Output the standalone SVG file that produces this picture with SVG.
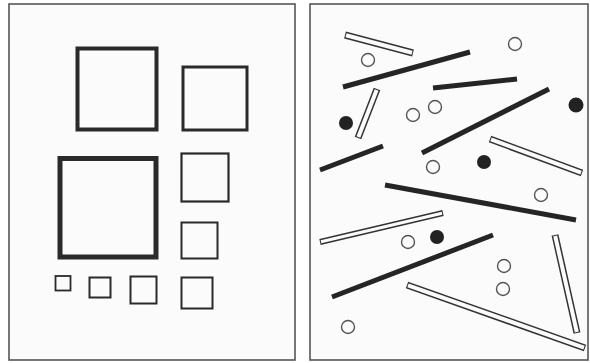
<svg xmlns="http://www.w3.org/2000/svg" width="590" height="363" viewBox="0 0 590 363">
<style>
.frame{fill:#fbfbfb;stroke:#555;stroke-width:1.6}
.sq{fill:none;stroke:#2a2a2a}
.bar{stroke:#252525;stroke-width:5;stroke-linecap:butt}
.ho{stroke:#333;stroke-width:7;stroke-linecap:butt}
.hi{stroke:#fbfbfb;stroke-width:4;stroke-linecap:butt}
.oc{fill:#fbfbfb;stroke:#555;stroke-width:1.4}
.fc{fill:#222}
</style>
<rect width="590" height="363" fill="#fff"/>
<g id="left-panel">
<rect class="frame" x="9" y="4" width="286" height="356"/>
<rect class="sq" x="77.5" y="48.5" width="79" height="81" stroke-width="4"/>
<rect class="sq" x="183" y="67" width="64" height="63" stroke-width="3"/>
<rect class="sq" x="60" y="158.5" width="96" height="98.5" stroke-width="5"/>
<rect class="sq" x="181.5" y="153.5" width="47" height="48" stroke-width="2.2"/>
<rect class="sq" x="181.5" y="222.5" width="36" height="36" stroke-width="2"/>
<rect class="sq" x="55.5" y="276" width="15" height="14.5" stroke-width="1.8"/>
<rect class="sq" x="89.5" y="277.5" width="21" height="20" stroke-width="2"/>
<rect class="sq" x="130.5" y="276.5" width="26" height="27" stroke-width="2"/>
<rect class="sq" x="181.5" y="277.5" width="31" height="31" stroke-width="2"/>
</g>
<g id="right-panel">
<rect class="frame" x="310" y="4" width="278" height="356"/>
<g id="bars">
<line class="bar" x1="343" y1="87" x2="470" y2="52"/>
<line class="bar" x1="433" y1="88" x2="517" y2="79"/>
<line class="bar" x1="422" y1="153" x2="549" y2="89"/>
<line class="bar" x1="320" y1="170" x2="383" y2="146"/>
<line class="bar" x1="385" y1="185" x2="576" y2="220"/>
<line class="bar" x1="332" y1="297" x2="493" y2="235"/>
</g>
<g id="hollow-bars">
<line class="ho" x1="345" y1="35" x2="413" y2="53"/><line class="hi" x1="346" y1="35.3" x2="412" y2="52.7"/>
<line class="ho" x1="377" y1="89" x2="358" y2="138"/><line class="hi" x1="376.6" y1="90" x2="358.4" y2="137"/>
<line class="ho" x1="490" y1="139" x2="582" y2="173"/><line class="hi" x1="491" y1="139.4" x2="581" y2="172.6"/>
<line class="ho" x1="320" y1="242" x2="443" y2="213" style="stroke-width:6"/><line class="hi" x1="321" y1="241.8" x2="442" y2="213.2" style="stroke-width:3"/>
<line class="ho" x1="555" y1="235" x2="577" y2="333"/><line class="hi" x1="555.2" y1="236" x2="576.8" y2="332"/>
<line class="ho" x1="407" y1="285" x2="585" y2="348"/><line class="hi" x1="408" y1="285.4" x2="584" y2="347.6"/>
</g>
<g id="open-circles">
<circle class="oc" cx="368" cy="60" r="6.5"/>
<circle class="oc" cx="515" cy="44" r="6.5"/>
<circle class="oc" cx="413" cy="115" r="6.5"/>
<circle class="oc" cx="435" cy="107" r="6.5"/>
<circle class="oc" cx="433" cy="167" r="6.5"/>
<circle class="oc" cx="541" cy="195" r="6.5"/>
<circle class="oc" cx="408" cy="242" r="6.5"/>
<circle class="oc" cx="504" cy="266" r="6.5"/>
<circle class="oc" cx="503" cy="289" r="6.5"/>
<circle class="oc" cx="348" cy="327" r="6.5"/>
</g>
<g id="filled-circles">
<circle class="fc" cx="346" cy="123" r="7"/>
<circle class="fc" cx="576" cy="105" r="7.5"/>
<circle class="fc" cx="484" cy="162" r="7"/>
<circle class="fc" cx="437" cy="237" r="7"/>
</g>
</g>
</svg>
